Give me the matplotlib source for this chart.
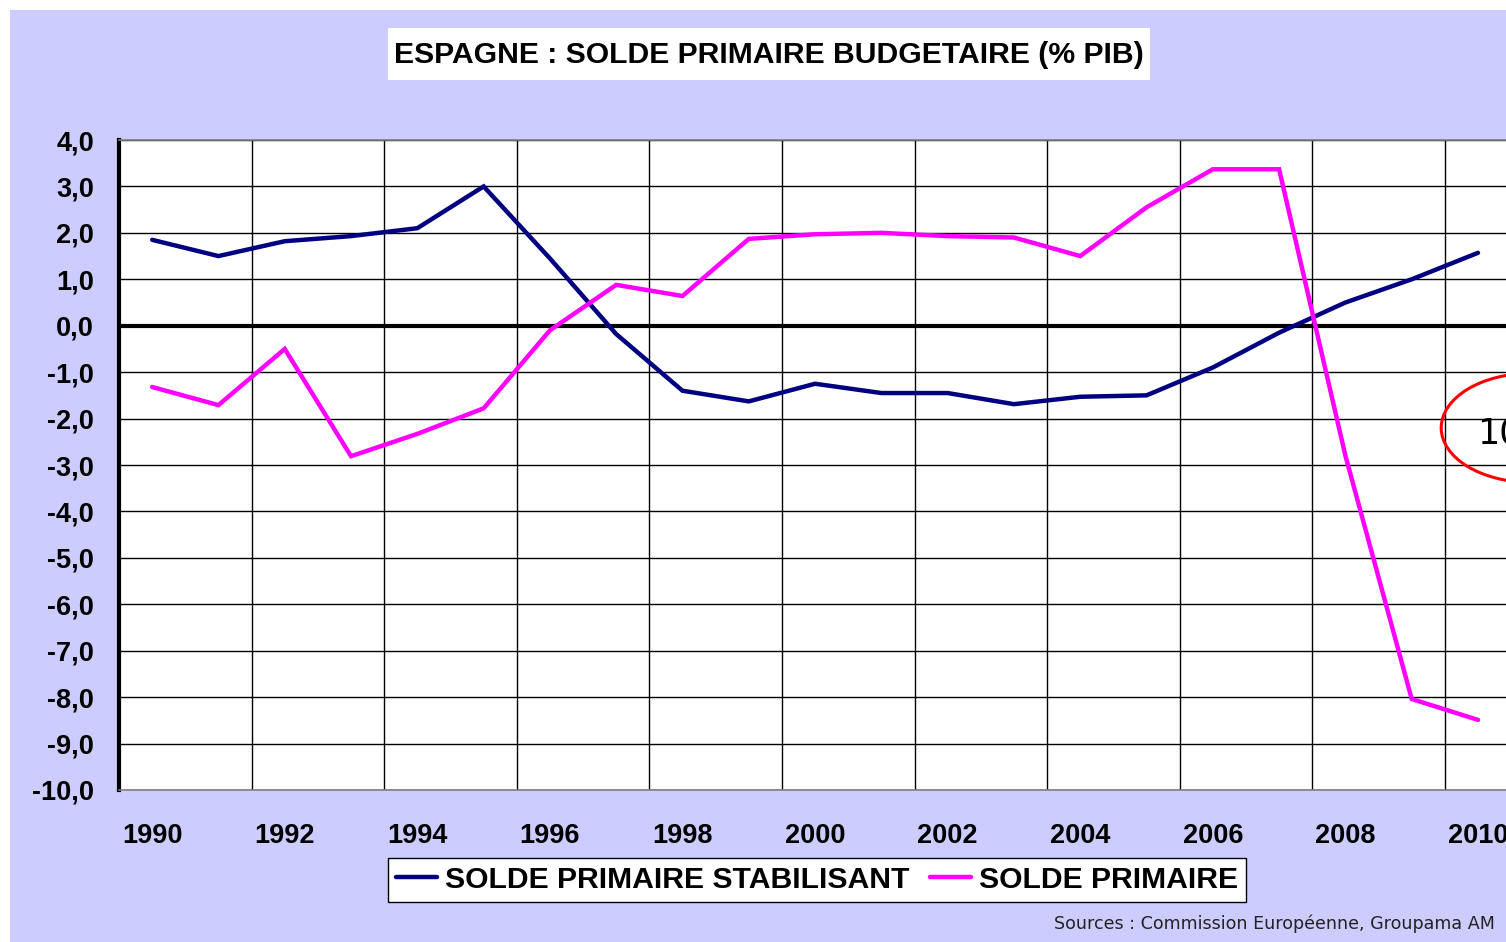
import matplotlib.pyplot as plt
from matplotlib.patches import Ellipse, Rectangle

years = list(range(1990, 2011))
solde_stabilisant = [1.85, 1.50, 1.82, 1.93, 2.10, 3.00, 1.45, -0.18, -1.40, -1.63,
                     -1.25, -1.45, -1.45, -1.69, -1.53, -1.50, -0.90, -0.15, 0.50, 1.00, 1.57]
solde_primaire = [-1.32, -1.71, -0.50, -2.81, -2.33, -1.78, -0.10, 0.88, 0.64, 1.87,
                  1.97, 2.00, 1.93, 1.90, 1.50, 2.55, 3.37, 3.37, -2.80, -8.04, -8.49]
y_ticks = list(range(-10, 5))
title = "ESPAGNE : SOLDE PRIMAIRE BUDGETAIRE (% PIB)"
source = "Sources : Commission Européenne, Groupama AM"

W, H = 1506, 942
bg = "#CCCCFF"
bold = ["Liberation Sans", "DejaVu Sans"]

fig = plt.figure(figsize=(W / 100, H / 100), dpi=100)
fig.patch.set_facecolor("white")
fig.patches.append(Rectangle((10 / W, 0), 1 - 10 / W, 1 - 10 / H,
                             transform=fig.transFigure, facecolor=bg,
                             edgecolor="none", zorder=-10))

ax = fig.add_axes([119 / W, 1 - 790 / H, (W - 119) / W, 650 / H])
x = list(range(len(years)))
ax.set_xlim(-0.5, (W - 152) / 66.3)
ax.set_ylim(-10, 4)

for gx in range(1, len(years), 2):
    ax.axvline(gx + 0.5, color="black", lw=1.0, zorder=1)
for gy in y_ticks:
    ax.axhline(gy, color="black", lw=1.0, zorder=1)
ax.axhline(0, color="black", lw=3.0, zorder=2)

ax.plot(x, solde_stabilisant, color="#000080", lw=3.2, label="SOLDE PRIMAIRE STABILISANT",
        zorder=3, solid_capstyle="round", solid_joinstyle="miter")
ax.plot(x, solde_primaire, color="#FF00FF", lw=3.2, label="SOLDE PRIMAIRE",
        zorder=3, solid_capstyle="round", solid_joinstyle="miter")

ax.set_yticks(y_ticks)
ax.set_yticklabels([f"{v:.1f}".replace(".", ",") for v in y_ticks],
                   fontfamily=bold, fontweight="bold", fontsize=19.5)
ax.set_xticks(x[::2])
ax.set_xticklabels([str(y) for y in years[::2]],
                   fontfamily=bold, fontweight="bold", fontsize=19.5)
ax.tick_params(axis="y", length=0, pad=18)
ax.tick_params(axis="x", length=0, pad=24)

ax.spines["left"].set_linewidth(3.0)
ax.spines["left"].set_color("black")
for s in ("top", "bottom"):
    ax.spines[s].set_color("#808080")
    ax.spines[s].set_linewidth(1.2)
ax.spines["right"].set_visible(False)

# red circled annotation at the cropped right edge
ax.add_patch(Ellipse((20.8, -2.2), 2.71, 2.35, fill=False, edgecolor="red",
                     lw=2.2, clip_on=False, zorder=4))
ax.text(19.98, -2.32, "10", fontsize=25, va="center", ha="left", clip_on=False, zorder=4)

# title box
fig.patches.append(Rectangle((388 / W, 1 - 80 / H), 762 / W, 52 / H,
                             transform=fig.transFigure, facecolor="white",
                             edgecolor="none", zorder=1))
fig.text(769 / W, 1 - 55 / H, title, ha="center", va="center",
         fontfamily=bold, fontweight="bold", fontsize=21.7, zorder=2)

leg = fig.legend(loc="center", bbox_to_anchor=(817 / W, 1 - 880 / H), ncol=2,
                 prop=dict(family=bold, weight="bold", size=21.7),
                 frameon=True, fancybox=False, edgecolor="black", framealpha=1,
                 handlelength=1.35, handletextpad=0.25, columnspacing=0.7,
                 borderpad=0.28, borderaxespad=0)
leg.get_frame().set_linewidth(1.0)

fig.text(1495 / W, 1 - 924 / H, source, ha="right", va="center", fontsize=12.6,
         color="#222222")

fig.savefig("out.png", dpi=100, facecolor=fig.get_facecolor())
